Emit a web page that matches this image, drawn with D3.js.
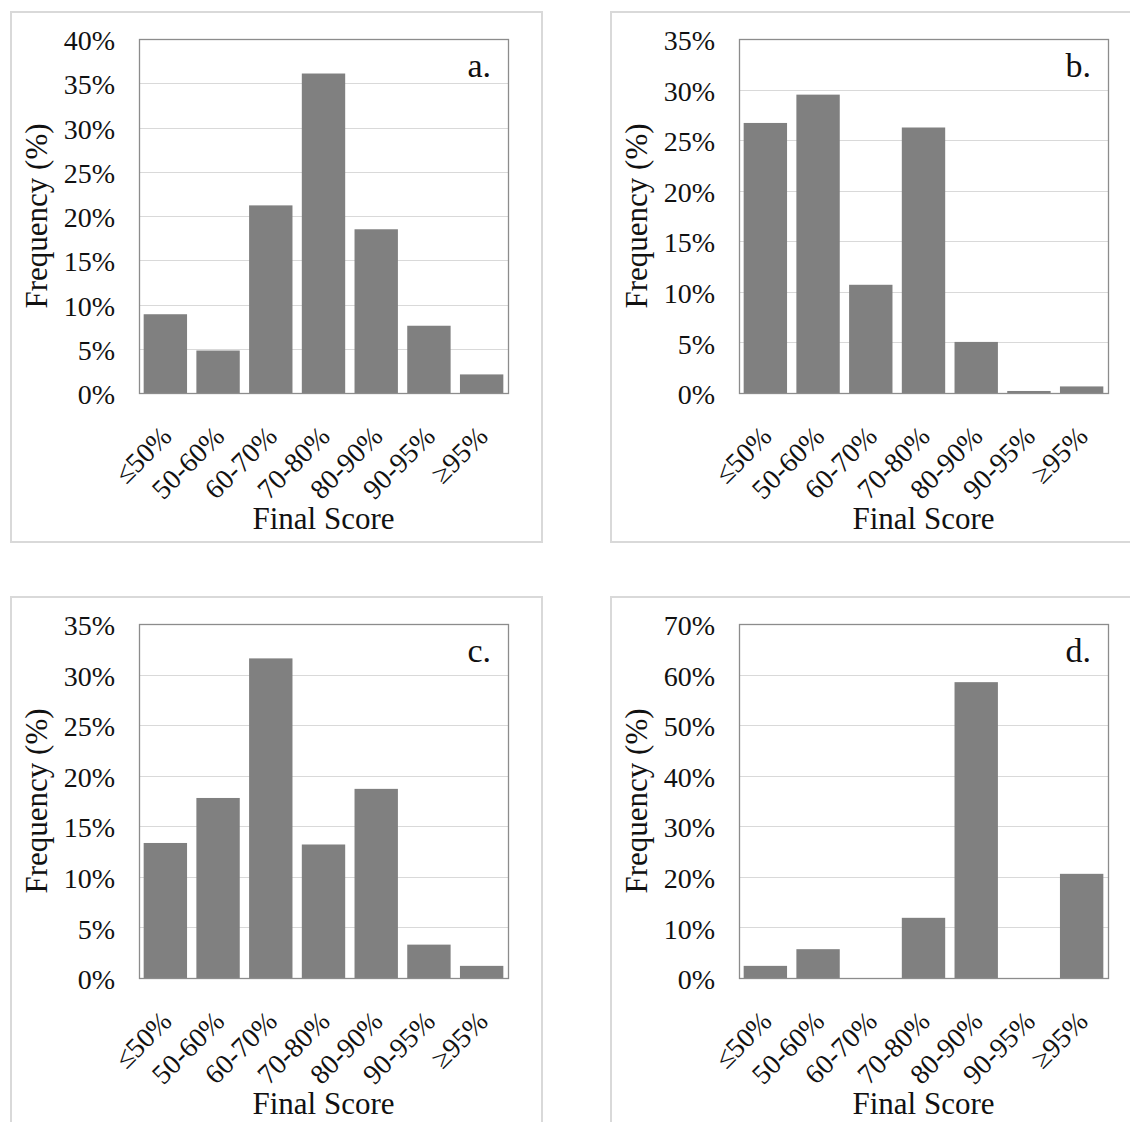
<!DOCTYPE html>
<html>
<head>
<meta charset="utf-8">
<script src="https://cdn.jsdelivr.net/npm/d3@7"></script>
<style>
  html, body { margin: 0; padding: 0; background: #fff; }
  svg { display: block; }
  svg text { font-family: "Liberation Serif", "Times New Roman", serif !important; fill: #111; }
</style>
</head>
<body>
<svg id="chart" width="1130" height="1122"></svg>
<script>
// Score bins shared by all four histograms
const categories = ["≤50%", "50-60%", "60-70%", "70-80%", "80-90%", "90-95%", "≥95%"];

// Frequency (%) per bin, one series per panel
const valuesA = [8.9, 4.8, 21.2, 36.1, 18.5, 7.6, 2.1];
const valuesB = [26.7, 29.5, 10.7, 26.25, 5.05, 0.2, 0.65];
const valuesC = [13.35, 17.8, 31.6, 13.2, 18.7, 3.3, 1.2];
const valuesD = [2.4, 5.7, 0, 11.9, 58.5, 0, 20.6];

// Y axis ranges and tick steps per panel
const yMax = [40, 35, 35, 70];
const yStep = [5, 5, 5, 10];

const panelLabels = ["a.", "b.", "c.", "d."];
const xTitle = "Final Score";
const yTitle = "Frequency (%)";

const series = [valuesA, valuesB, valuesC, valuesD];

// Panel frame positions (top-left of each outer box)
const origins = [[11, 12], [611, 12], [11, 597], [611, 597]];
const frameW = 531, frameH = 530;
const plot = { left: 128, top: 27, width: 369, height: 354 };
const serif = "'Liberation Serif', 'Times New Roman', serif";
const tickSize = "28px";

const svg = d3.select("#chart");

series.forEach((vals, p) => {
  const [ox, oy] = origins[p];
  const g = svg.append("g").attr("transform", `translate(${ox},${oy})`);

  // outer chart frame
  g.append("rect")
    .attr("x", 0).attr("y", 0)
    .attr("width", frameW).attr("height", frameH)
    .attr("fill", "#fff")
    .attr("stroke", "#d9d9d9")
    .attr("stroke-width", 2);

  const pg = g.append("g").attr("transform", `translate(${plot.left},${plot.top})`);

  const x = d3.scaleBand()
    .domain(categories)
    .range([0, plot.width])
    .paddingInner(0.177)
    .paddingOuter(0.0885);

  const y = d3.scaleLinear()
    .domain([0, yMax[p]])
    .range([plot.height, 0]);

  const ticks = d3.range(0, yMax[p] + yStep[p] / 2, yStep[p]);

  // horizontal gridlines
  pg.append("g")
    .selectAll("line")
    .data(ticks.filter(t => t > 0 && t < yMax[p]))
    .join("line")
    .attr("x1", 0).attr("x2", plot.width)
    .attr("y1", d => Math.round(y(d)) + 0.5)
    .attr("y2", d => Math.round(y(d)) + 0.5)
    .attr("stroke", "#d9d9d9")
    .attr("stroke-width", 1.2);

  // bars
  pg.append("g")
    .selectAll("rect")
    .data(vals)
    .join("rect")
    .attr("x", (d, i) => x(categories[i]))
    .attr("width", x.bandwidth())
    .attr("y", d => y(d))
    .attr("height", d => plot.height - y(d))
    .attr("fill", "#808080");

  // plot area border
  pg.append("rect")
    .attr("x", 0.5).attr("y", 0.5)
    .attr("width", plot.width).attr("height", plot.height)
    .attr("fill", "none")
    .attr("stroke", "#8c8c8c")
    .attr("stroke-width", 1.3);

  // y axis tick labels
  const yAxis = d3.axisLeft(y)
    .tickValues(ticks)
    .tickFormat(d => d + "%")
    .tickSize(0)
    .tickPadding(24);
  const ya = pg.append("g").call(yAxis)
    .attr("font-family", serif);
  ya.select(".domain").remove();
  ya.selectAll("text")
    .style("font-family", serif)
    .style("font-size", tickSize)
    .attr("fill", "#111")
    .attr("dy", "0.38em");

  // x axis tick labels, rotated
  const xAxis = d3.axisBottom(x).tickSize(0).tickPadding(0);
  const xa = pg.append("g")
    .attr("transform", `translate(0,${plot.height})`)
    .call(xAxis)
    .attr("font-family", serif);
  xa.select(".domain").remove();
  xa.selectAll("text")
    .style("font-family", serif)
    .style("font-size", tickSize)
    .attr("fill", "#111")
    .attr("text-anchor", "end")
    .attr("x", 0).attr("y", 0).attr("dy", "0.35em")
    .attr("transform", "translate(1,38) rotate(-45)");

  // axis titles
  pg.append("text")
    .attr("transform", `translate(${-92},${plot.height / 2}) rotate(-90)`)
    .attr("text-anchor", "middle")
    .style("font-family", serif)
    .style("font-size", "31px")
    .text(yTitle);

  pg.append("text")
    .attr("x", plot.width / 2)
    .attr("y", 490)
    .attr("text-anchor", "middle")
    .style("font-family", serif)
    .style("font-size", "31px")
    .text(xTitle);

  // panel letter
  pg.append("text")
    .attr("x", plot.width - 17)
    .attr("y", 38)
    .attr("text-anchor", "end")
    .style("font-family", serif)
    .style("font-size", "34px")
    .text(panelLabels[p]);
});
</script>
</body>
</html>
